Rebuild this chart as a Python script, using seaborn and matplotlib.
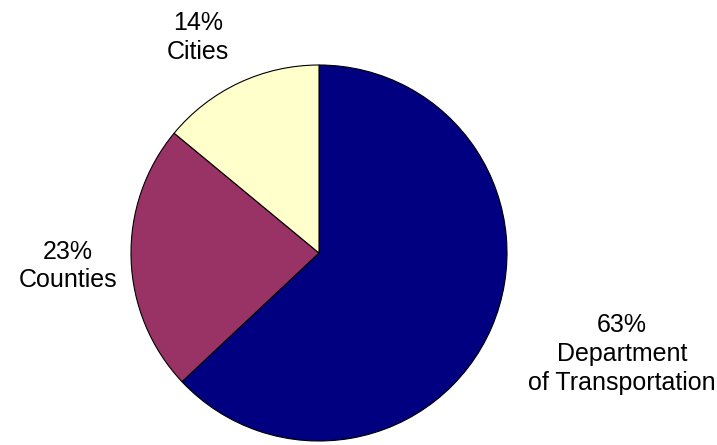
import matplotlib
matplotlib.use("Agg")
import matplotlib.pyplot as plt
import seaborn as sns

# revenue shares by agency
labels = ["Department\nof Transportation", "Counties", "Cities"]
shares = [63, 23, 14]
colors = ["#000080", "#993366", "#FFFFCC"]

sns.set_theme(style="white")
plt.rcParams['font.family'] = ['Liberation Sans', 'DejaVu Sans']

fig = plt.figure(figsize=(7.17, 4.45), dpi=100)
# pie centre at roughly (319, 253) px, radius ~188 px
cx, cy, r = 319, 253, 188
ax = fig.add_axes([(cx - r) / 717, (445 - cy - r) / 445, 2 * r / 717, 2 * r / 445])

wedges, _ = ax.pie(shares, colors=colors, startangle=90, counterclock=False,
                   wedgeprops=dict(edgecolor='black', linewidth=0.8))
ax.set_xlim(-1, 1)
ax.set_ylim(-1, 1)
ax.set_aspect('equal')
ax.axis('off')

# label positions outside the pie (data units, radius = 1)
label_pos = [(1.612, -0.537), (-1.335, -0.069), (-0.644, 1.146)]
for lab, val, (x, y) in zip(labels, shares, label_pos):
    ax.text(x, y, f"{val}%\n{lab}", ha='center', va='center',
            fontsize=18, linespacing=1.25, color='black')

plt.savefig('out.png', dpi=100)
